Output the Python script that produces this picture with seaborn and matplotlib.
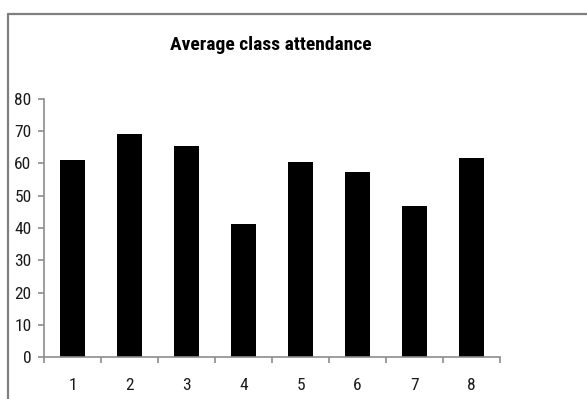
import matplotlib
matplotlib.use("Agg")
import matplotlib.pyplot as plt
from matplotlib.lines import Line2D
import seaborn as sns
import pandas as pd

# Average attendance per class
classes = ["1", "2", "3", "4", "5", "6", "7", "8"]
attendance = [61.0, 69.2, 65.5, 41.2, 60.4, 57.3, 46.8, 61.6]
y_ticks = [0, 10, 20, 30, 40, 50, 60, 70, 80]

sns.set_theme(style="white")
plt.rcParams["font.family"] = ["Roboto Condensed", "DejaVu Sans"]

df = pd.DataFrame({"cls": classes, "att": attendance})

fig = plt.figure(figsize=(5.87, 3.99), dpi=100)
ax = fig.add_axes([0.075, 0.1045, 0.777, 0.648])

sns.barplot(data=df, x="cls", y="att", color="black", saturation=1,
            width=0.43, ax=ax, edgecolor="black", linewidth=0)

axis_gray = "#8c8c8c"
ax.set_xlim(-0.5, len(classes) - 0.5)
ax.set_ylim(0, 80)
ax.set_yticks(y_ticks)
ax.set_yticklabels([str(v) for v in y_ticks])

# tick marks sit on the category boundaries, labels at the centres
ax.set_xticks([i - 0.5 for i in range(len(classes) + 1)])
ax.set_xticklabels([""] * (len(classes) + 1))
ax.set_xticks(range(len(classes)), minor=True)
ax.set_xticklabels(classes, minor=True)

ax.tick_params(axis="x", which="major", direction="out", length=4, width=1.2,
               color=axis_gray, bottom=True)
ax.tick_params(axis="x", which="minor", length=0, pad=15, labelsize=12.5,
               labelcolor="#1a1a1a", bottom=True)
ax.tick_params(axis="y", direction="out", length=4, width=1.2, color=axis_gray,
               left=True, pad=5, labelsize=12.5, labelcolor="#1a1a1a")

for side in ["top", "right"]:
    ax.spines[side].set_visible(False)
for side in ["left", "bottom"]:
    ax.spines[side].set_color(axis_gray)
    ax.spines[side].set_linewidth(1.2)

ax.set_xlabel("")
ax.set_ylabel("")
ax.grid(False)

fig.text(0.462, 0.887, "Average class attendance", ha="center", va="center",
         fontsize=14, fontweight="bold", color="black")

# chart frame (top and left edges)
fig.add_artist(Line2D([0.0135, 1.0], [0.9649, 0.9649], transform=fig.transFigure,
                      color="#7f7f7f", linewidth=1.6))
fig.add_artist(Line2D([0.0135, 0.0135], [0.0, 0.9649], transform=fig.transFigure,
                      color="#7f7f7f", linewidth=1.6))

fig.savefig("out.png", dpi=100)
